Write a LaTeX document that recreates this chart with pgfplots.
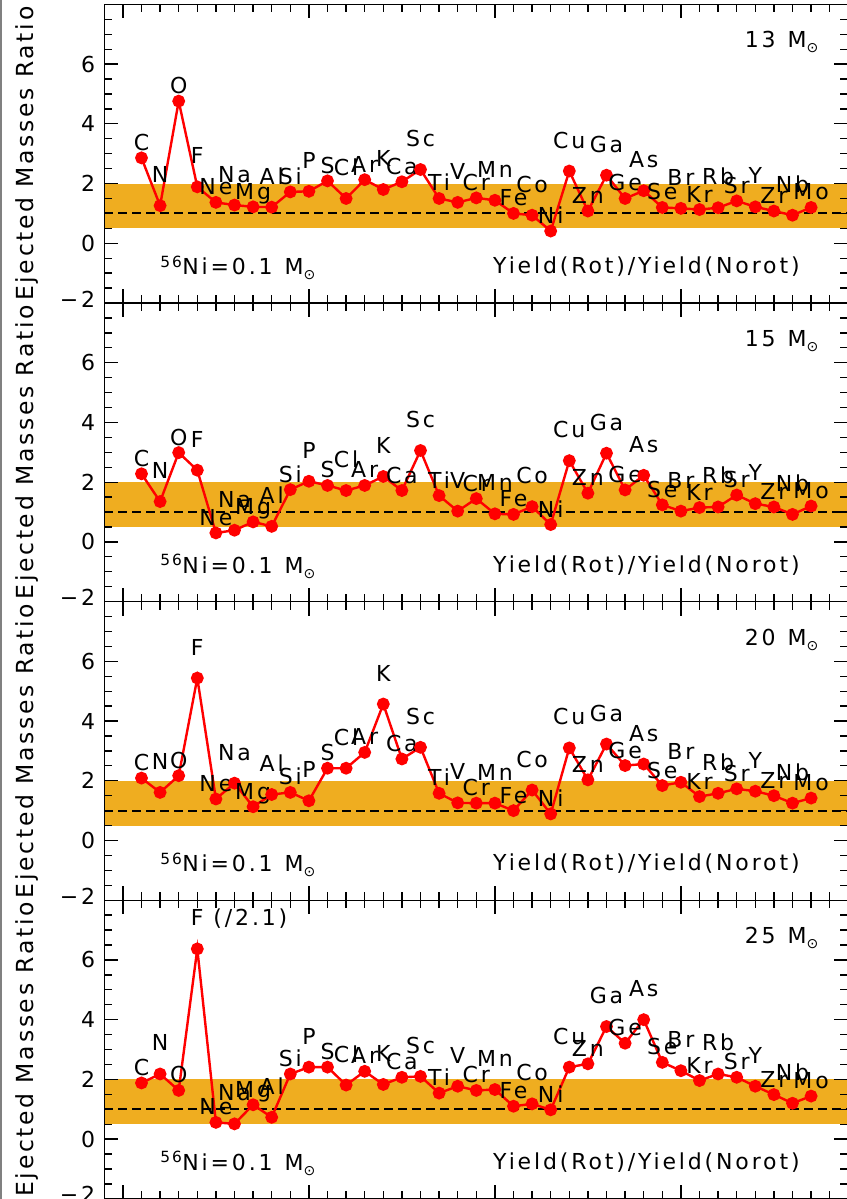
\documentclass[border=0pt]{standalone}
\usepackage{pgfplots}
\pgfplotsset{compat=1.18}
\usepackage{pgfplotstable}
\usepackage{fontspec}
\setmainfont{DejaVu Sans}[LetterSpace=13]
\definecolor{band}{RGB}{239,173,32}
\newcommand\fs{\fontsize{22}{26}\selectfont}
\newcommand\sun{\raisebox{-5pt}{\fontsize{14}{14}\selectfont ⊙}}

\pgfplotstableread{
Z o lab labd a b c d
6 0 C C 2.86 2.28 2.09 1.88
7 1 N N 1.26 1.35 1.61 2.18
8 0 O O 4.76 2.99 2.17 1.63
9 1 F {F\rlap{~(/2.1)}} 1.89 2.40 5.44 6.37
10 0 Ne Ne 1.37 0.30 1.39 0.56
11 1 Na Na 1.28 0.39 1.92 0.51
12 0 Mg Mg 1.22 0.67 1.13 1.15
13 1 Al Al 1.21 0.52 1.54 0.73
14 0 Si Si 1.72 1.75 1.61 2.18
15 1 P P 1.74 2.03 1.33 2.41
16 0 S S 2.09 1.89 2.42 2.41
17 1 Cl Cl 1.50 1.72 2.42 1.81
18 0 Ar Ar 2.13 1.89 2.95 2.27
19 1 K K 1.80 2.19 4.57 1.83
20 0 Ca Ca 2.06 1.72 2.73 2.07
21 1 Sc Sc 2.47 3.06 3.12 2.10
22 0 Ti Ti 1.50 1.55 1.58 1.54
23 1 V V 1.37 1.03 1.26 1.77
24 0 Cr Cr 1.52 1.45 1.25 1.63
25 1 Mn Mn 1.44 0.94 1.25 1.66
26 0 Fe Fe 1.00 0.92 1.00 1.10
27 1 Co Co 0.94 1.18 1.69 1.18
28 0 Ni Ni 0.41 0.58 0.89 0.98
29 1 Cu Cu 2.42 2.72 3.10 2.41
30 0 Zn Zn 1.08 1.63 2.03 2.52
31 1 Ga Ga 2.28 2.97 3.23 3.77
32 0 Ge Ge 1.50 1.74 2.51 3.21
33 1 As As 1.76 2.23 2.56 4.00
34 0 Se Se 1.20 1.24 1.84 2.57
35 1 Br Br 1.17 1.03 1.95 2.29
36 0 Kr Kr 1.13 1.15 1.47 1.96
37 1 Rb Rb 1.19 1.17 1.58 2.18
38 0 Sr Sr 1.42 1.57 1.73 2.07
39 1 Y Y 1.22 1.28 1.65 1.77
40 0 Zr Zr 1.08 1.17 1.50 1.49
41 1 Nb Nb 0.94 0.92 1.25 1.20
42 0 Mo Mo 1.20 1.20 1.42 1.44
}\data

\pgfplotsset{
  panel/.style={
    scale only axis, width=744pt, height=298.6pt,
    xmin=4, xmax=44, ymin=-2, ymax=8,
    xtick={5,15,25,35}, xticklabels={},
    minor xtick={4,...,44},
    ytick={-2,0,2,4,6,8}, yticklabels={\raisebox{8pt}{−2},0,2,4,6,{}},
    minor ytick={-1.5,-1,...,7.5},
    tick align=inside, major tick length=14pt, minor tick length=8pt,
    tick style={line width=1.3pt, black},
    axis line style={line width=1.3pt},
    yticklabel style={font=\fs, inner sep=0pt, xshift=-9pt},
    axis on top, clip=false, anchor=north west,
    ylabel={Ejected Masses Ratio},
    every axis y label/.style={at={(rel axis cs:-0.0958,0.5)}, rotate=90, anchor=base, inner sep=0pt, font=\fontsize{23.5}{28}\selectfont\addfontfeature{LetterSpace=11.5}},
  },
  ser/.style={red, line width=2.4pt, mark=*, mark size=5.2pt, mark options={solid, fill=red},
    nodes near coords, point meta=explicit symbolic,
    visualization depends on={\thisrow{o} \as \odd},
    every node near coord/.append style={anchor=base, inner sep=0pt, yshift={7.5+15.5*\odd}, font=\fs, text=black}},
}

\newcommand\bandlines{%
  \addplot[draw=none, fill=band, forget plot] coordinates {(4,0.5) (44,0.5) (44,2) (4,2)};
  \addplot[black, dash pattern=on 9pt off 5pt, line width=2pt, forget plot] coordinates {(4,1) (44,1)};
  \node[anchor=base west, font=\fs, inner sep=0pt] at (axis cs:7.0,-1.05) {\textsuperscript{56}Ni=0.1\hspace{12pt}M\sun};
  \node[anchor=base west, font=\fs, inner sep=0pt] at (axis cs:24.9,-1.02) {Yield(Rot)/Yield(Norot)};
}

\begin{document}
\begin{tikzpicture}
\path[use as bounding box] (-104.3pt,4.4pt) rectangle (741.7pt,-1194.6pt);
\draw[gray, line width=2pt] (-103.3pt,4.4pt) -- (-103.3pt,-1194.6pt);

\begin{axis}[panel, at={(0pt,0pt)}]
\bandlines
\addplot[ser] table[x=Z, y=a, meta=lab] {\data};
\node[anchor=base east, font=\fs, inner sep=0pt] at (axis cs:42.4,6.54) {13\hspace{12pt}M\sun};
\end{axis}

\begin{axis}[panel, at={(0pt,-298.6pt)}]
\bandlines
\addplot[ser] table[x=Z, y=b, meta=lab] {\data};
\node[anchor=base east, font=\fs, inner sep=0pt] at (axis cs:42.4,6.54) {15\hspace{12pt}M\sun};
\end{axis}

\begin{axis}[panel, at={(0pt,-597.2pt)}]
\bandlines
\addplot[ser] table[x=Z, y=c, meta=lab] {\data};
\node[anchor=base east, font=\fs, inner sep=0pt] at (axis cs:42.4,6.54) {20\hspace{12pt}M\sun};
\end{axis}

\begin{axis}[panel, at={(0pt,-895.8pt)}]
\bandlines
\addplot[ser] table[x=Z, y=d, meta=labd] {\data};
\node[anchor=base east, font=\fs, inner sep=0pt] at (axis cs:42.4,6.54) {25\hspace{12pt}M\sun};
\end{axis}
\end{tikzpicture}
\end{document}
